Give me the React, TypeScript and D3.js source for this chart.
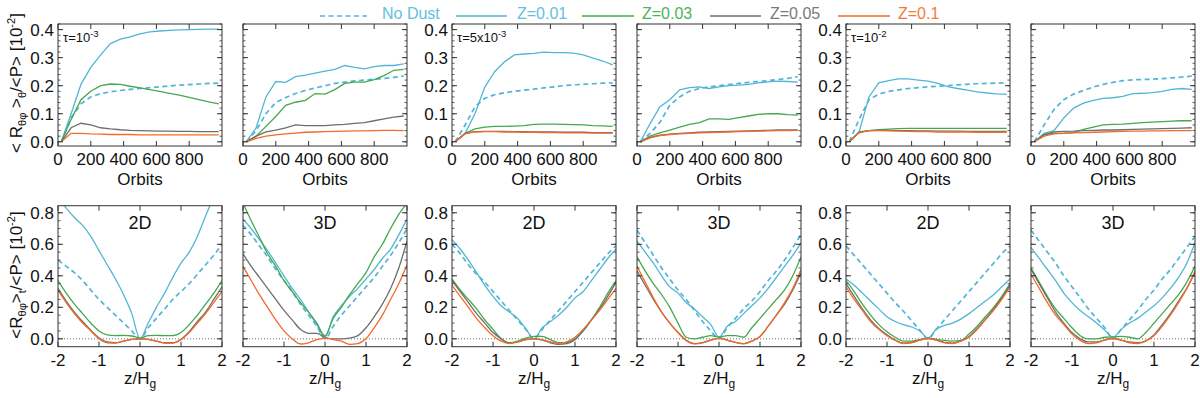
import React from "react";
import * as d3 from "d3";

// legend / series
const seriesLabels = ["No Dust", "Z=0.01", "Z=0.03", "Z=0.05", "Z=0.1"];
const seriesColors = ["#52b5d6", "#52b5d6", "#44a84d", "#6e6e6e", "#f26b28"];
const labelColors = ["#66c0de", "#66c0de", "#4db357", "#7a7a7a", "#f47a38"];

// x grids
const orbits = [20, 80, 140, 200, 260, 320, 380, 440, 500, 560, 620, 680, 740, 800, 860, 920, 980];
const heights = [-2, -1.8, -1.6, -1.4, -1.2, -1, -0.8, -0.6, -0.4, -0.2, 0, 0.2, 0.4, 0.6, 0.8, 1, 1.2, 1.4, 1.6, 1.8, 2];

// ticks
const orbitTicks = [0, 200, 400, 600, 800];
const stressTicks = [0, 0.1, 0.2, 0.3, 0.4];
const heightTicks = [-2, -1, 0, 1, 2];
const profileTicks = [0, 0.2, 0.4, 0.6, 0.8];

const tauMant = ["", "5x", ""];
const tauExp = ["-3", "-3", "-2"];
const dimLabels = ["2D", "3D", "2D", "3D", "2D", "3D"];

// top row: stress vs orbits, series order = noDust, Z0.01, Z0.03, Z0.05, Z0.1
const topTau1e3_2D = [
  [0, 0.085, 0.135, 0.16, 0.172, 0.178, 0.183, 0.187, 0.19, 0.193, 0.196, 0.199, 0.202, 0.204, 0.206, 0.208, 0.209],
  [0, 0.1, 0.205, 0.265, 0.31, 0.35, 0.366, 0.374, 0.385, 0.392, 0.395, 0.397, 0.399, 0.4, 0.401, 0.402, 0.402],
  [0, 0.08, 0.15, 0.18, 0.2, 0.206, 0.205, 0.198, 0.192, 0.186, 0.18, 0.173, 0.166, 0.158, 0.15, 0.142, 0.135],
  [0, 0.05, 0.066, 0.06, 0.05, 0.046, 0.043, 0.041, 0.04, 0.039, 0.038, 0.038, 0.037, 0.037, 0.036, 0.036, 0.036],
  [0, 0.03, 0.03, 0.028, 0.027, 0.026, 0.026, 0.026, 0.025, 0.025, 0.025, 0.025, 0.025, 0.025, 0.025, 0.025, 0.025],
];
const topTau1e3_3D = [
  [0, 0.04, 0.1, 0.14, 0.158, 0.172, 0.183, 0.192, 0.2, 0.208, 0.213, 0.217, 0.22, 0.223, 0.226, 0.23, 0.234],
  [0, 0.05, 0.16, 0.215, 0.212, 0.232, 0.238, 0.245, 0.252, 0.258, 0.272, 0.265, 0.26, 0.268, 0.272, 0.272, 0.278],
  [0, 0.02, 0.055, 0.09, 0.13, 0.141, 0.148, 0.172, 0.17, 0.186, 0.208, 0.213, 0.213, 0.222, 0.236, 0.255, 0.258],
  [0, 0.02, 0.035, 0.042, 0.05, 0.06, 0.058, 0.058, 0.058, 0.06, 0.062, 0.066, 0.068, 0.075, 0.082, 0.088, 0.092],
  [0, 0.012, 0.02, 0.025, 0.028, 0.031, 0.034, 0.035, 0.036, 0.037, 0.038, 0.039, 0.039, 0.04, 0.041, 0.041, 0.04],
];
const topTau5e3_2D = [
  [0, 0.06, 0.125, 0.155, 0.168, 0.175, 0.18, 0.184, 0.188, 0.192, 0.196, 0.2, 0.203, 0.205, 0.207, 0.209, 0.21],
  [0, 0.03, 0.1, 0.195, 0.25, 0.285, 0.31, 0.313, 0.315, 0.32, 0.318, 0.318, 0.316, 0.31, 0.298, 0.288, 0.274],
  [0, 0.03, 0.046, 0.052, 0.055, 0.055, 0.056, 0.058, 0.062, 0.063, 0.063, 0.062, 0.061, 0.06, 0.058, 0.057, 0.055],
  [0, 0.03, 0.036, 0.037, 0.037, 0.037, 0.036, 0.036, 0.035, 0.035, 0.035, 0.034, 0.034, 0.034, 0.033, 0.033, 0.033],
  [0, 0.028, 0.035, 0.036, 0.036, 0.035, 0.035, 0.034, 0.034, 0.033, 0.033, 0.032, 0.032, 0.032, 0.031, 0.031, 0.031],
];
const topTau5e3_3D = [
  [0, 0.03, 0.07, 0.13, 0.16, 0.18, 0.19, 0.196, 0.2, 0.204, 0.208, 0.212, 0.215, 0.218, 0.222, 0.226, 0.232],
  [0, 0.065, 0.125, 0.15, 0.185, 0.193, 0.196, 0.19, 0.196, 0.2, 0.202, 0.205, 0.21, 0.214, 0.216, 0.215, 0.213],
  [0, 0.02, 0.032, 0.042, 0.052, 0.062, 0.068, 0.082, 0.082, 0.08, 0.086, 0.092, 0.098, 0.1, 0.1, 0.097, 0.095],
  [0, 0.016, 0.024, 0.027, 0.03, 0.032, 0.034, 0.035, 0.036, 0.037, 0.038, 0.039, 0.04, 0.041, 0.042, 0.042, 0.042],
  [0, 0.014, 0.022, 0.026, 0.028, 0.03, 0.032, 0.033, 0.034, 0.035, 0.036, 0.037, 0.038, 0.039, 0.04, 0.04, 0.041],
];
const topTau1e2_2D = [
  [0, 0.08, 0.15, 0.17, 0.18, 0.185, 0.19, 0.193, 0.196, 0.198, 0.2, 0.203, 0.205, 0.207, 0.208, 0.209, 0.21],
  [0, 0.035, 0.16, 0.21, 0.218, 0.224, 0.224, 0.22, 0.216, 0.208, 0.197, 0.19, 0.184, 0.178, 0.174, 0.171, 0.169],
  [0, 0.035, 0.04, 0.043, 0.045, 0.047, 0.048, 0.048, 0.048, 0.048, 0.048, 0.048, 0.048, 0.048, 0.048, 0.048, 0.048],
  [0, 0.034, 0.04, 0.041, 0.041, 0.04, 0.04, 0.039, 0.039, 0.038, 0.038, 0.038, 0.037, 0.037, 0.037, 0.037, 0.037],
  [0, 0.032, 0.04, 0.04, 0.039, 0.038, 0.037, 0.036, 0.036, 0.035, 0.035, 0.035, 0.035, 0.034, 0.034, 0.034, 0.034],
];
const topTau1e2_3D = [
  [0, 0.06, 0.115, 0.15, 0.17, 0.183, 0.195, 0.205, 0.212, 0.218, 0.221, 0.222, 0.223, 0.225, 0.228, 0.231, 0.234],
  [0, 0.03, 0.04, 0.085, 0.12, 0.138, 0.148, 0.155, 0.157, 0.162, 0.172, 0.173, 0.175, 0.18, 0.187, 0.19, 0.187],
  [0, 0.026, 0.03, 0.031, 0.033, 0.044, 0.052, 0.06, 0.062, 0.063, 0.066, 0.068, 0.07, 0.072, 0.074, 0.075, 0.075],
  [0, 0.025, 0.035, 0.037, 0.038, 0.04, 0.041, 0.042, 0.042, 0.043, 0.044, 0.045, 0.046, 0.047, 0.048, 0.049, 0.05],
  [0, 0.02, 0.028, 0.03, 0.032, 0.033, 0.034, 0.035, 0.036, 0.037, 0.038, 0.038, 0.039, 0.039, 0.04, 0.04, 0.04],
];

// bottom row: vertical profiles vs z/Hg
const botTau1e3_2D = [
  [0.5, 0.46, 0.42, 0.37, 0.31, 0.25, 0.2, 0.15, 0.1, 0.05, 0.0, 0.07, 0.13, 0.19, 0.25, 0.3, 0.35, 0.41, 0.47, 0.53, 0.6],
  [0.9, 0.83, 0.77, 0.72, 0.65, 0.56, 0.47, 0.38, 0.28, 0.16, 0.0, 0.1, 0.2, 0.29, 0.39, 0.48, 0.55, 0.65, 0.78, 0.9, 1.0],
  [0.37, 0.29, 0.22, 0.16, 0.1, 0.05, 0.025, 0.02, 0.022, 0.018, 0.005, 0.02, 0.022, 0.02, 0.02, 0.04, 0.09, 0.15, 0.22, 0.29, 0.37],
  [0.32, 0.24, 0.17, 0.11, 0.055, 0.005, -0.02, -0.025, -0.014, -0.004, 0.0, -0.004, -0.014, -0.025, -0.025, -0.003, 0.045, 0.11, 0.17, 0.25, 0.33],
  [0.31, 0.23, 0.16, 0.1, 0.05, 0.0, -0.025, -0.027, -0.015, -0.004, 0.0, -0.004, -0.015, -0.027, -0.027, -0.005, 0.04, 0.1, 0.16, 0.23, 0.3],
];
const botTau1e3_3D = [
  [0.72, 0.66, 0.59, 0.52, 0.44, 0.37, 0.3, 0.22, 0.15, 0.08, 0.0, 0.08, 0.15, 0.21, 0.27, 0.33, 0.39, 0.46, 0.53, 0.61, 0.7],
  [0.76, 0.7, 0.63, 0.56, 0.48, 0.4, 0.32, 0.25, 0.17, 0.09, 0.01, 0.14, 0.21, 0.27, 0.32, 0.38, 0.44, 0.51, 0.57, 0.66, 0.76],
  [0.86, 0.75, 0.645, 0.54, 0.46, 0.37, 0.3, 0.23, 0.17, 0.1, 0.02, 0.13, 0.2, 0.28, 0.35, 0.42, 0.52, 0.6, 0.7, 0.79, 0.86],
  [0.54, 0.46, 0.39, 0.32, 0.25, 0.18, 0.12, 0.06, 0.035, 0.035, 0.01, 0.0, 0.0, 0.005, 0.02, 0.07, 0.14, 0.22, 0.32, 0.45, 0.62],
  [0.46, 0.37, 0.28, 0.2, 0.12, 0.05, 0.0, -0.033, -0.025, -0.005, 0.005, -0.005, -0.015, -0.035, -0.03, 0.0, 0.07, 0.15, 0.25, 0.35, 0.47],
];
const botTau5e3_2D = [
  [0.6, 0.54, 0.47, 0.41, 0.36, 0.3, 0.24, 0.18, 0.12, 0.06, 0.0, 0.06, 0.12, 0.18, 0.24, 0.3, 0.36, 0.42, 0.48, 0.54, 0.59],
  [0.63, 0.57, 0.5, 0.42, 0.34, 0.27, 0.21, 0.17, 0.13, 0.065, 0.0, 0.07, 0.11, 0.15, 0.2, 0.26, 0.3, 0.37, 0.44, 0.51, 0.57],
  [0.38, 0.31, 0.25, 0.19, 0.12, 0.06, 0.0, -0.025, -0.015, 0.005, 0.015, 0.015, -0.005, -0.025, -0.025, 0.0, 0.05, 0.12, 0.2, 0.29, 0.37],
  [0.37, 0.3, 0.23, 0.16, 0.1, 0.04, 0.0, -0.028, -0.02, -0.005, 0.0, -0.008, -0.025, -0.035, -0.03, -0.005, 0.05, 0.12, 0.19, 0.27, 0.36],
  [0.34, 0.27, 0.2, 0.13, 0.07, 0.02, -0.015, -0.03, -0.02, -0.005, 0.0, -0.005, -0.02, -0.03, -0.02, 0.01, 0.06, 0.12, 0.18, 0.25, 0.32],
];
const botTau5e3_3D = [
  [0.69, 0.61, 0.53, 0.45, 0.38, 0.31, 0.25, 0.18, 0.11, 0.05, 0.0, 0.07, 0.13, 0.19, 0.24, 0.3, 0.37, 0.43, 0.5, 0.58, 0.66],
  [0.62, 0.55, 0.48, 0.4, 0.33, 0.29, 0.23, 0.19, 0.14, 0.09, 0.01, 0.08, 0.11, 0.16, 0.21, 0.26, 0.32, 0.39, 0.46, 0.53, 0.61],
  [0.52, 0.43, 0.35, 0.28, 0.2, 0.1, 0.01, 0.0, 0.01, 0.02, 0.012, 0.02, 0.02, 0.01, 0.07, 0.13, 0.19, 0.25, 0.31, 0.4, 0.52],
  [0.43, 0.34, 0.25, 0.17, 0.1, 0.04, -0.01, -0.03, -0.024, -0.008, 0.003, -0.008, -0.022, -0.03, -0.015, 0.015, 0.08, 0.15, 0.22, 0.31, 0.42],
  [0.46, 0.36, 0.26, 0.17, 0.1, 0.04, -0.01, -0.032, -0.025, -0.008, 0.003, -0.008, -0.022, -0.032, -0.015, 0.015, 0.08, 0.15, 0.23, 0.32, 0.44],
];
const botTau1e2_2D = [
  [0.59, 0.53, 0.47, 0.41, 0.35, 0.29, 0.23, 0.175, 0.115, 0.055, 0.0, 0.06, 0.12, 0.18, 0.24, 0.3, 0.36, 0.42, 0.48, 0.54, 0.59],
  [0.38, 0.34, 0.29, 0.24, 0.19, 0.14, 0.11, 0.09, 0.075, 0.05, 0.005, 0.06, 0.085, 0.1, 0.125, 0.16, 0.2, 0.24, 0.28, 0.33, 0.38],
  [0.37, 0.3, 0.22, 0.15, 0.09, 0.045, 0.01, -0.015, -0.015, -0.005, 0.005, -0.003, -0.01, -0.015, -0.01, 0.03, 0.08, 0.14, 0.2, 0.27, 0.35],
  [0.35, 0.27, 0.19, 0.12, 0.065, 0.025, -0.008, -0.028, -0.023, -0.007, 0.002, -0.007, -0.023, -0.028, -0.013, 0.015, 0.065, 0.125, 0.19, 0.26, 0.34],
  [0.33, 0.25, 0.18, 0.11, 0.06, 0.02, -0.01, -0.03, -0.025, -0.008, 0.002, -0.008, -0.025, -0.03, -0.015, 0.01, 0.06, 0.12, 0.18, 0.25, 0.33],
];
const botTau1e2_3D = [
  [0.69, 0.62, 0.55, 0.48, 0.4, 0.33, 0.26, 0.19, 0.13, 0.07, 0.0, 0.06, 0.12, 0.18, 0.25, 0.31, 0.38, 0.44, 0.51, 0.58, 0.65],
  [0.58, 0.51, 0.44, 0.37, 0.29, 0.23, 0.18, 0.14, 0.1, 0.055, 0.01, 0.06, 0.1, 0.13, 0.17, 0.21, 0.26, 0.32, 0.39, 0.48, 0.61],
  [0.45, 0.36, 0.27, 0.19, 0.13, 0.07, 0.02, 0.0, 0.0, 0.01, 0.012, 0.015, 0.01, 0.0, 0.04, 0.1, 0.16, 0.22, 0.28, 0.36, 0.46],
  [0.44, 0.35, 0.26, 0.17, 0.1, 0.04, 0.0, -0.02, -0.02, -0.006, 0.002, -0.008, -0.02, -0.025, -0.012, 0.025, 0.09, 0.16, 0.24, 0.32, 0.42],
  [0.41, 0.32, 0.23, 0.15, 0.09, 0.03, -0.01, -0.03, -0.025, -0.008, 0.002, -0.008, -0.025, -0.03, -0.015, 0.02, 0.08, 0.15, 0.23, 0.32, 0.43],
];

const topPanels = [topTau1e3_2D, topTau1e3_3D, topTau5e3_2D, topTau5e3_3D, topTau1e2_2D, topTau1e2_3D];
const botPanels = [botTau1e3_2D, botTau1e3_3D, botTau5e3_2D, botTau5e3_3D, botTau1e2_2D, botTau1e2_3D];

const FONT = "'Liberation Sans', Arial, Helvetica, sans-serif";
const PW = 164;
const colLeft = (i: number) => 58 + Math.floor(i / 2) * 394 + (i % 2) * 185;
const TOP_ROW = { t: 24, b: 146 };
const BOT_ROW = { t: 205.7, b: 346.7 };
const DASH = "5,3.5";

function Panel(props: any) {
  const { idx, left, t, b, xDomain, yDomain, xs, series, xTicks, yTicks, yMinor, showY, curve, zero } = props;
  const x = d3.scaleLinear().domain(xDomain).range([left, left + PW]);
  const y = d3.scaleLinear().domain(yDomain).range([b, t]);
  const line = d3
    .line<number>()
    .x((_, i) => x(xs[i]))
    .y((d) => y(d))
    .curve(curve);
  const clipId = `clip-${idx}`;
  const tk = "#333";
  return (
    <g>
      <defs>
        <clipPath id={clipId}>
          <rect x={left} y={t} width={PW} height={b - t} />
        </clipPath>
      </defs>
      {zero && (
        <line x1={left} x2={left + PW} y1={y(0)} y2={y(0)} stroke="#444" strokeWidth={0.8} strokeDasharray="1,2" />
      )}
      <g clipPath={`url(#${clipId})`}>
        {series.map((s: number[], k: number) => (
          <path
            key={k}
            d={line(s) || ""}
            fill="none"
            stroke={seriesColors[k]}
            strokeWidth={k === 0 ? 1.7 : 1.3}
            strokeDasharray={k === 0 ? DASH : undefined}
          />
        ))}
      </g>
      <rect x={left} y={t} width={PW} height={b - t} fill="none" stroke={tk} strokeWidth={1} />
      {xTicks.map((v: number) => (
        <g key={"x" + v}>
          <line x1={x(v)} x2={x(v)} y1={b} y2={b - 5} stroke={tk} />
          <line x1={x(v)} x2={x(v)} y1={t} y2={t + 5} stroke={tk} />
          <text x={x(v)} y={b + 19} textAnchor="middle" fontSize={17} fontFamily={FONT} fill="#111">
            {String(v)}
          </text>
        </g>
      ))}
      {yMinor.map((v: number, i: number) => (
        <g key={"m" + i}>
          <line x1={left} x2={left + 2.5} y1={y(v)} y2={y(v)} stroke={tk} strokeWidth={0.8} />
          <line x1={left + PW} x2={left + PW - 2.5} y1={y(v)} y2={y(v)} stroke={tk} strokeWidth={0.8} />
        </g>
      ))}
      {yTicks.map((v: number) => (
        <g key={"y" + v}>
          <line x1={left} x2={left + 5} y1={y(v)} y2={y(v)} stroke={tk} />
          <line x1={left + PW} x2={left + PW - 5} y1={y(v)} y2={y(v)} stroke={tk} />
          {showY && (
            <text x={left - 4} y={y(v) + 6} textAnchor="end" fontSize={17} fontFamily={FONT} fill="#111">
              {d3.format(".1f")(v)}
            </text>
          )}
        </g>
      ))}
      {props.children}
    </g>
  );
}

export default function App() {
  const legendItems = [
    { x0: 320, x1: 367, tx: 382 },
    { x0: 456, x1: 507, tx: 517 },
    { x0: 582, x1: 634, tx: 642 },
    { x0: 710, x1: 761, tx: 770 },
    { x0: 838, x1: 890, tx: 898 },
  ];
  const topMinor = d3.range(0, 0.421, 0.02);
  const botMinor = d3.range(0, 0.81, 0.05);
  return (
    <svg
      width={1200}
      height={398}
      style={{ position: "absolute", left: 0, top: 0, background: "#fff" }}
      fontFamily={FONT}
    >
      {/* legend */}
      {seriesLabels.map((lab, k) => (
        <g key={lab}>
          <line
            x1={legendItems[k].x0}
            x2={legendItems[k].x1}
            y1={16}
            y2={16}
            stroke={seriesColors[k]}
            strokeWidth={k === 0 ? 1.7 : 1.4}
            strokeDasharray={k === 0 ? DASH : undefined}
          />
          <text x={legendItems[k].tx} y={18.5} fontSize={16} fill={labelColors[k]}>
            {lab}
          </text>
        </g>
      ))}

      {/* top row */}
      {topPanels.map((series, i) => {
        const left = colLeft(i);
        const ti = Math.floor(i / 2);
        return (
          <Panel
            key={"t" + i}
            idx={"t" + i}
            left={left}
            t={TOP_ROW.t}
            b={TOP_ROW.b}
            xDomain={[0, 1000]}
            yDomain={[-0.015, 0.42]}
            xs={orbits}
            series={series}
            xTicks={orbitTicks}
            yTicks={stressTicks}
            yMinor={topMinor}
            showY={i % 2 === 0}
            curve={d3.curveLinear}
          >
            {i % 2 === 0 && (
              <text x={left + 5} y={TOP_ROW.t + 18} fontSize={13} fill="#111">
                {"τ=" + tauMant[ti] + "10"}
                <tspan dy={-5} fontSize={9.5}>
                  {tauExp[ti]}
                </tspan>
              </text>
            )}
            <text x={left + PW / 2} y={185} textAnchor="middle" fontSize={17} fill="#111">
              Orbits
            </text>
          </Panel>
        );
      })}

      {/* bottom row */}
      {botPanels.map((series, i) => {
        const left = colLeft(i);
        return (
          <Panel
            key={"b" + i}
            idx={"b" + i}
            left={left}
            t={BOT_ROW.t}
            b={BOT_ROW.b}
            xDomain={[-2, 2]}
            yDomain={[-0.05, 0.845]}
            xs={heights}
            series={series}
            xTicks={heightTicks}
            yTicks={profileTicks}
            yMinor={botMinor}
            showY={i % 2 === 0}
            curve={d3.curveMonotoneX}
            zero
          >
            <text x={left + PW / 2} y={229} textAnchor="middle" fontSize={18} fill="#111">
              {dimLabels[i]}
            </text>
            <text x={left + PW / 2} y={384} textAnchor="middle" fontSize={17} fill="#111">
              z/H
              <tspan dy={4} fontSize={12}>
                g
              </tspan>
            </text>
          </Panel>
        );
      })}

      {/* y titles */}
      <text transform="translate(22,83) rotate(-90)" textAnchor="middle" fontSize={17} fill="#111">
        {"< R"}
        <tspan dy={4} fontSize={11}>θφ</tspan>
        <tspan dy={-4}>{" >"}</tspan>
        <tspan dy={4} fontSize={11}>θ</tspan>
        <tspan dy={-4}>{"/<P> [10"}</tspan>
        <tspan dy={-7} fontSize={11}>-2</tspan>
        <tspan dy={7}>]</tspan>
      </text>
      <text transform="translate(22,275) rotate(-90)" textAnchor="middle" fontSize={17} fill="#111">
        {"<R"}
        <tspan dy={4} fontSize={11}>θφ</tspan>
        <tspan dy={-4}>{">"}</tspan>
        <tspan dy={4} fontSize={11}>t</tspan>
        <tspan dy={-4}>{"/<P> [10"}</tspan>
        <tspan dy={-7} fontSize={11}>-2</tspan>
        <tspan dy={7}>]</tspan>
      </text>
    </svg>
  );
}
